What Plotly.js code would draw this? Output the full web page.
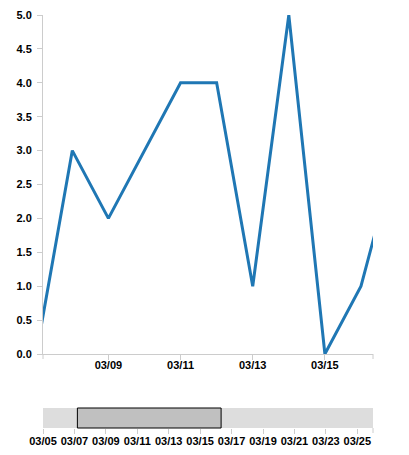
<!DOCTYPE html>
<html>
<head>
<meta charset="utf-8">
<script src="https://cdn.plot.ly/plotly-3.0.1.min.js"></script>
<style>html,body{margin:0;padding:0;background:#fff;}#chart{width:409px;height:455px;}</style>
</head>
<body>
<div id="chart"></div>
<script>
// Data
var dates = ['2015-03-07','2015-03-08','2015-03-09','2015-03-10','2015-03-11','2015-03-12','2015-03-13','2015-03-14','2015-03-15','2015-03-16','2015-03-17'];
var values = [0, 3, 2, 3, 4, 4, 1, 5, 0, 1, 3];
var focusRange = ['2015-03-07 04:30','2015-03-16 08:00'];
var contextRange = ['2015-03-05','2015-03-26'];
var tickStart = '2015-03-05';

var DAY = 86400000;
var axisGray = '#cccccc';
var tickFont = {family: 'Liberation Sans, Arial, sans-serif', size: 11, color: '#000', weight: 'bold'};

var trace = {
  x: dates, y: values, type: 'scatter', mode: 'lines',
  line: {color: '#1f77b4', width: 3},
  xaxis: 'x', yaxis: 'y', hoverinfo: 'x+y'
};

var mainH = 339;
var layout = {
  width: 409, height: 455,
  margin: {l: 43, r: 36, t: 15, b: 27},
  paper_bgcolor: '#fff', plot_bgcolor: '#fff',
  showlegend: false,
  xaxis: {
    type: 'date', range: focusRange, domain: [0, 1], anchor: 'y',
    tickformat: '%m/%d', tick0: tickStart, dtick: 2 * DAY,
    ticks: 'outside', ticklen: 5, tickcolor: axisGray, tickwidth: 1,
    showline: true, linecolor: axisGray, linewidth: 1,
    showgrid: false, zeroline: false, tickfont: tickFont,
    ticklabelstandoff: -4
  },
  yaxis: {
    range: [0, 5], domain: [74 / 413, 1], anchor: 'x',
    dtick: 0.5, tick0: 0, tickformat: '.1f',
    ticks: 'outside', ticklen: 5, tickcolor: axisGray, tickwidth: 1,
    showline: true, linecolor: axisGray, linewidth: 1,
    showgrid: false, zeroline: false, tickfont: tickFont,
    ticklabelstandoff: 3
  },
  xaxis2: {
    type: 'date', range: contextRange, domain: [0, 1], anchor: 'y2',
    tickformat: '%m/%d', tick0: tickStart, dtick: 2 * DAY,
    ticks: 'outside', ticklen: 5, tickcolor: axisGray, tickwidth: 1,
    showline: false, showgrid: false, zeroline: false, tickfont: tickFont,
    ticklabelstandoff: -2
  },
  yaxis2: {
    range: [0, 1], domain: [0, 20 / 413], anchor: 'x2',
    visible: false, showgrid: false, zeroline: false
  },
  shapes: [
    {type: 'rect', xref: 'x2 domain', yref: 'y2 domain', x0: 0, x1: 1, y0: 0, y1: 1,
     fillcolor: '#dddddd', line: {width: 0}, layer: 'below'},
    {type: 'rect', xref: 'x2', yref: 'y2 domain', x0: focusRange[0], x1: focusRange[1], y0: 0, y1: 1,
     fillcolor: '#c0c0c0', line: {color: '#000', width: 1}},
    {type: 'line', xref: 'x domain', yref: 'y domain', x0: 0, x1: 0, y0: 0, y1: -5 / mainH,
     line: {color: axisGray, width: 1}},
    {type: 'line', xref: 'x domain', yref: 'y domain', x0: 1, x1: 1, y0: 0, y1: -5 / mainH,
     line: {color: axisGray, width: 1}},
    {type: 'line', xref: 'x2 domain', yref: 'y2 domain', x0: 1, x1: 1, y0: 0, y1: -5 / 20,
     line: {color: axisGray, width: 1}}
  ]
};

Plotly.newPlot('chart', [trace], layout, {displayModeBar: false, staticPlot: true});
</script>
</body>
</html>
